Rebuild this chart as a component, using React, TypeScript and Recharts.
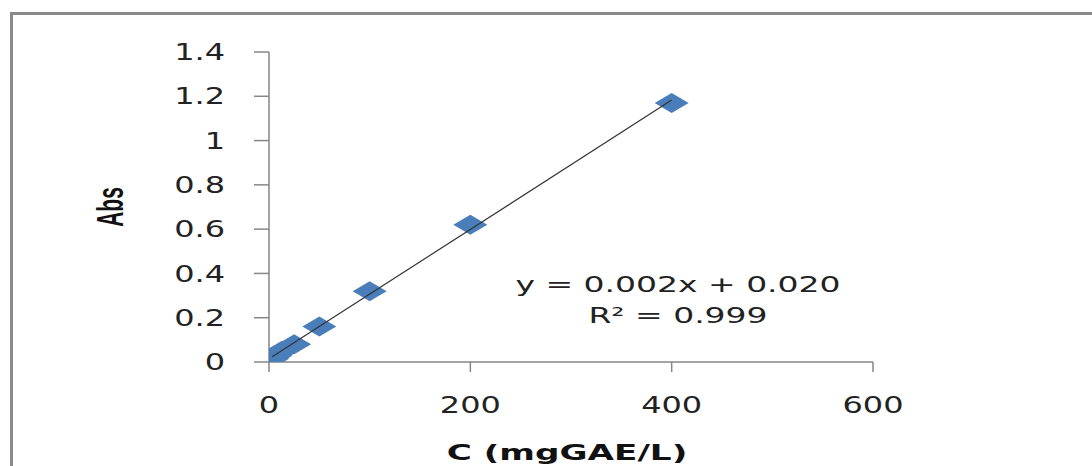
import React from "react";
import { ScatterChart, Scatter, XAxis, YAxis } from "recharts";

const concentrations = [3.125, 6.25, 12.5, 25, 50, 100, 200, 400];
const absorbances = [0.015, 0.028, 0.05, 0.08, 0.16, 0.32, 0.62, 1.17];
const xTicks = [0, 200, 400, 600];
const yTicks = [0, 0.2, 0.4, 0.6, 0.8, 1, 1.2, 1.4];
const equationText = "y = 0.002x + 0.020";
const r2Text = "R² = 0.999";
const xTitle = "C (mgGAE/L)";
const yTitle = "Abs";

const points = concentrations.map((c, i) => ({ x: c, y: absorbances[i] }));

// least-squares trendline from the data
const n = points.length;
const mx = points.reduce((s, p) => s + p.x, 0) / n;
const my = points.reduce((s, p) => s + p.y, 0) / n;
const slope =
  points.reduce((s, p) => s + (p.x - mx) * (p.y - my), 0) /
  points.reduce((s, p) => s + (p.x - mx) * (p.x - mx), 0);
const intercept = my - slope * mx;
const xMin = Math.min(...concentrations);
const xMax = Math.max(...concentrations);
const trend = [
  { x: xMin, y: intercept + slope * xMin },
  { x: xMax, y: intercept + slope * xMax },
];

const SX = 1.39;
const TICK_FONT = "DejaVu Sans, Verdana, sans-serif";

const YTick = (props: any) => {
  const { x, y, payload } = props;
  return (
    <text
      transform={`translate(${x},${y}) scale(${SX},1)`}
      textAnchor="end"
      dy="0.355em"
      fontFamily={TICK_FONT}
      fontSize={23}
      fill="#222"
    >
      {String(payload.value)}
    </text>
  );
};

const XTick = (props: any) => {
  const { x, y, payload } = props;
  return (
    <text
      transform={`translate(${x},${y}) scale(${SX},1)`}
      textAnchor="middle"
      dy="0.71em"
      fontFamily={TICK_FONT}
      fontSize={23}
      fill="#222"
    >
      {String(payload.value)}
    </text>
  );
};

const Diamond = (props: any) => {
  const { cx, cy } = props;
  if (cx == null || cy == null) return <g />;
  const hw = 17;
  const hh = 10;
  return (
    <polygon
      points={`${cx},${cy - hh} ${cx + hw},${cy} ${cx},${cy + hh} ${cx - hw},${cy}`}
      fill="#4a7ebb"
    />
  );
};

const NoShape = () => <g />;

export default function App() {
  return (
    <div
      style={{
        position: "absolute",
        left: 0,
        top: 0,
        width: 1092,
        height: 466,
        background: "#fff",
        overflow: "hidden",
      }}
    >
      <div
        style={{
          position: "absolute",
          left: 10,
          top: 12,
          width: 1200,
          height: 600,
          borderTop: "3px solid #8a8a8a",
          borderLeft: "3px solid #8a8a8a",
        }}
      />
      <div style={{ position: "absolute", left: 0, top: 0 }}>
        <ScatterChart
          width={1092}
          height={466}
          margin={{ top: 52, right: 219, bottom: 0, left: 0 }}
        >
          <XAxis
            type="number"
            dataKey="x"
            domain={[0, 600]}
            ticks={xTicks}
            interval={0}
            height={104}
            tickSize={10}
            tickMargin={25}
            tick={<XTick />}
            stroke="#868686"
            axisLine={{ stroke: "#868686", strokeWidth: 1.5 }}
            tickLine={{ stroke: "#868686", strokeWidth: 1.5 }}
            allowDataOverflow
          />
          <YAxis
            type="number"
            dataKey="y"
            domain={[0, 1.4]}
            ticks={yTicks}
            interval={0}
            width={269}
            tickSize={15}
            tickMargin={29}
            tick={<YTick />}
            stroke="#868686"
            axisLine={{ stroke: "#868686", strokeWidth: 1.5 }}
            tickLine={{ stroke: "#868686", strokeWidth: 1.5 }}
            allowDataOverflow
          />
          <Scatter
            data={points}
            shape={<Diamond />}
            isAnimationActive={false}
          />
          <Scatter
            data={trend}
            line={{ stroke: "#333", strokeWidth: 1.2 }}
            shape={<NoShape />}
            isAnimationActive={false}
          />
        </ScatterChart>
      </div>
      <svg
        width={1092}
        height={466}
        style={{ position: "absolute", left: 0, top: 0, pointerEvents: "none" }}
      >
        <text
          transform={`translate(678,292) scale(1.5,1)`}
          textAnchor="middle"
          fontFamily={TICK_FONT}
          fontSize={22}
          fill="#222"
        >
          {equationText}
        </text>
        <text
          transform={`translate(678,323) scale(1.5,1)`}
          textAnchor="middle"
          fontFamily={TICK_FONT}
          fontSize={22}
          fill="#222"
        >
          {r2Text}
        </text>
        <text
          transform={`translate(123,207) rotate(-90) scale(1,1.75)`}
          textAnchor="middle"
          fontFamily="Liberation Sans, Arial, sans-serif"
          fontWeight="bold"
          fontSize={21}
          fill="#111"
        >
          {yTitle}
        </text>
        <text
          transform={`translate(567,460) scale(1.63,1)`}
          textAnchor="middle"
          fontFamily="DejaVu Sans, Verdana, sans-serif"
          fontWeight="bold"
          fontSize={21}
          fill="#111"
        >
          {xTitle}
        </text>
      </svg>
    </div>
  );
}
